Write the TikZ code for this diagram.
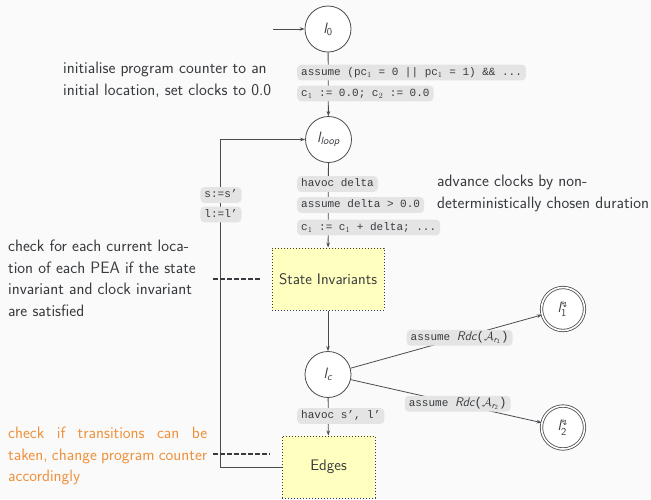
\documentclass[tikz,border=0pt]{standalone}
\usepackage{amsmath}
\usepackage{fontspec}
\setmonofont{Liberation Mono}
\newfontfamily\dejavu{DejaVu Sans}
\usetikzlibrary{arrows.meta}
\definecolor{bgc}{RGB}{250,250,250}
\definecolor{txt}{RGB}{55,58,62}
\definecolor{ln}{RGB}{72,76,80}
\definecolor{lblbg}{RGB}{228,228,228}
\definecolor{boxfill}{RGB}{255,255,191}
\definecolor{orng}{RGB}{240,145,60}
\pgfdeclarelayer{back}
\pgfdeclarelayer{lines}
\pgfsetlayers{back,lines,main}
\newcommand{\lightsup}{\text{\dejavu\fontsize{8}{8}\selectfont ↯}}
\newcommand{\rdcpart}[1]{{\fontsize{12.5}{13}\selectfont\sffamily\itshape Rdc}{\fontsize{12.5}{13}\selectfont($\mathcal{A}_{\text{\sffamily\itshape r}_{\text{\sffamily #1}}}$)}}
\begin{document}
\begin{tikzpicture}[x=1pt,y=-1pt,font=\sffamily,
  state/.style={circle, draw=ln, fill=white, line width=0.8pt, minimum size=46pt, inner sep=0pt, text=txt, font=\sffamily\fontsize{15}{18}\selectfont},
  final/.style={state, minimum size=43pt, double=white, double distance=1.6pt},
  lbl/.style={fill=lblbg, rounded corners=4pt, inner xsep=4pt, inner ysep=2.8pt, text height=8pt, text depth=2.2pt, text=txt, font=\ttfamily\fontsize{11}{12}\selectfont},
  blk/.style={draw=txt, dotted, line width=1pt, fill=boxfill, text=txt, inner sep=0pt, font=\sffamily\fontsize{15.3}{18}\selectfont},
  note/.style={align=left, inner sep=0pt, anchor=north west, text=txt, font=\sffamily\fontsize{16.5}{21.5}\selectfont},
  arr/.style={draw=ln, line width=0.8pt, -{Stealth[length=5pt,width=3.6pt]}},
  conn/.style={draw=ln, line width=0.8pt},
  dashln/.style={draw=txt, line width=1.3pt, dash pattern=on 4.5pt off 2.5pt}]
\begin{pgfonlayer}{back}
\fill[bgc] (0,0) rectangle (651,499);
\end{pgfonlayer}
\useasboundingbox (0,0) rectangle (651,499);

% states
\node[state] (l0) at (328,29) {{\itshape l}$_{\text{\sffamily 0}}$};
\node[state] (lloop) at (328.5,139.5) {{\itshape l}$_{\text{\sffamily\itshape loop}}$};
\node[blk, minimum width=112pt, minimum height=62pt] (si) at (328,279) {State Invariants};
\node[state] (lc) at (328,374.5) {{\itshape l}$_{\text{\sffamily\itshape c}}$};
\node[blk, minimum width=93pt, minimum height=62pt] (edges) at (328.5,467) {Edges};
\node[final] (l1) at (563,309) {{\itshape l}$^{\lightsup}_{\text{\sffamily 1}}$};
\node[final] (l2) at (563,427.5) {{\itshape l}$^{\lightsup}_{\text{\sffamily 2}}$};

% code labels
\node[lbl, anchor=west] (a1) at (297,72.5) {assume (pc$_1$ = 0 || pc$_1$ = 1) \&\& ...};
\node[lbl, anchor=west] (a2) at (297,93.5) {c$_1$ := 0.0; c$_2$ := 0.0};
\node[lbl, anchor=west] (b1) at (297,184) {havoc delta};
\node[lbl, anchor=west] (b2) at (297,205) {assume delta > 0.0};
\node[lbl, anchor=west] (b3) at (297,227.5) {c$_1$ := c$_1$ + delta; ...};
\node[lbl] (s1) at (221,195) {s:=s’};
\node[lbl] (s2) at (221,214.5) {l:=l’};
\node[lbl, anchor=west] (h1) at (297,416) {havoc s’, l’};

% notes
\node[note] (n1) at (63,62) {initialise program counter to an\\initial location, set clocks to 0.0};
\node[note] (n2) at (437,175) {advance clocks by non-\\deterministically chosen duration};
\node[note] (n3) at (8,240) {check for each current loca-\\tion of each PEA if the state\\invariant and clock invariant\\are satisfied};
\node[note, text=orng] (n4) at (8,427) {\makebox[199pt][s]{check if transitions can be}\\\makebox[199pt][s]{taken, change program counter}\\accordingly};

\coordinate (start) at (273,29);
\coordinate (corner) at (220,467);
\coordinate (d1) at (213,279);
\coordinate (d2) at (213,454);

\begin{pgfonlayer}{lines}
\draw[arr] (start) -- (l0);
\draw[arr] (l0) -- (lloop);
\draw[arr] (lloop) -- (si);
\draw[arr] (si) -- (lc);
\draw[arr] (lc) -- (edges);
\draw[arr] (edges.west |- corner) -- (corner) |- (lloop);
\draw[arr] (lc) -- node[lbl, pos=0.57] (r1) {assume \rdcpart{1}} (l1);
\draw[arr] (lc) -- node[lbl, pos=0.56] (r2) {assume \rdcpart{2}} (l2);
\draw[dashln, shorten >=10pt] (d1) -- (si.west);
\draw[dashln, shorten >=12pt] (d2) -- (d2 -| edges.west);
\end{pgfonlayer}
\end{tikzpicture}
\end{document}
